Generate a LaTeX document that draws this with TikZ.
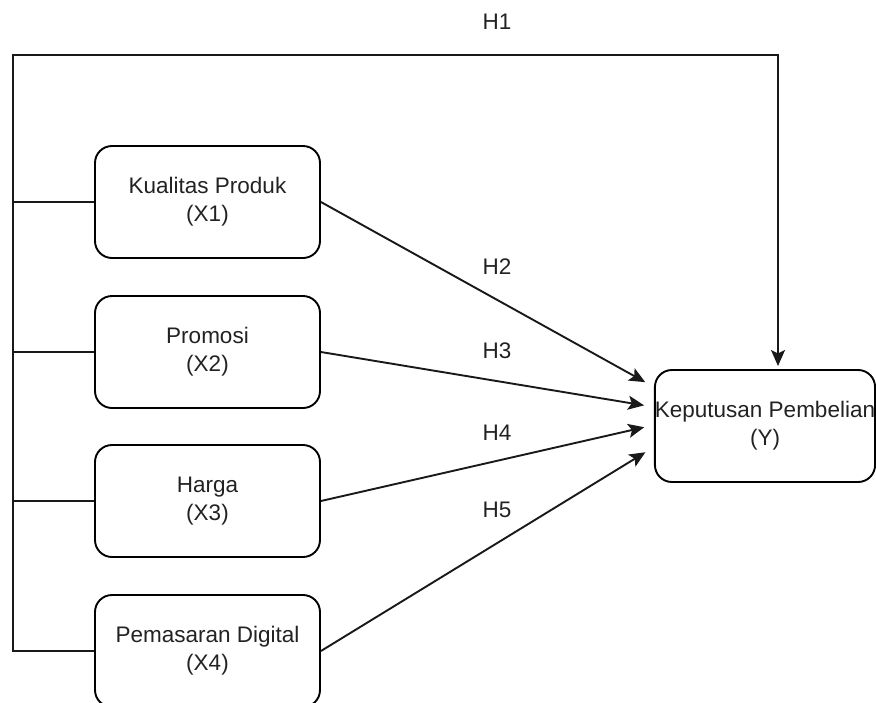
\documentclass[tikz,border=0pt]{standalone}
\usepackage{fontspec}
\setmainfont{Liberation Sans}
\usetikzlibrary{arrows.meta,calc}
\definecolor{txt}{HTML}{222222}
\tikzset{
  box/.style={draw=black, line width=1.9pt, rounded corners=17pt, minimum width=225pt, minimum height=112pt, align=center, inner sep=0pt, font=\fontsize{22.5}{28}\selectfont, text=txt},
  lbl/.style={font=\fontsize{22.5}{27}\selectfont, text=txt, inner sep=0pt},
  conn/.style={draw=black!90, line width=1.9pt},
  arr/.style={conn, -{Stealth[length=16pt, width=14pt, inset=3.5pt]}}
}
\begin{document}
\begin{tikzpicture}[x=1pt, y=-1pt]
\useasboundingbox (0,0) rectangle (876,702);
\node[box] (x1) at (207.5,202) {Kualitas Produk\\(X1)};
\node[box] (x2) at (207.5,352) {Promosi\\(X2)};
\node[box] (x3) at (207.5,501) {Harga\\(X3)};
\node[box] (x4) at (207.5,651) {Pemasaran Digital\\(X4)};
\node[box, minimum width=220pt] (y) at (765,426) {Keputusan Pembelian\\(Y)};
\coordinate (tl) at (13,55);
\coordinate (yt) at (778,370);
\draw[arr, shorten >=4pt] (x4.west) -| (tl) -| (yt);
\draw[conn] (x1.west) -- (x1.west -| tl);
\draw[conn] (x2.west) -- (x2.west -| tl);
\draw[conn] (x3.west) -- (x3.west -| tl);
\draw[arr, shorten >=10pt] (x1.east) -- ($(y.west)+(0,-39)$);
\draw[arr, shorten >=10pt] (x2.east) -- ($(y.west)+(0,-19)$);
\draw[arr, shorten >=10pt] (x3.east) -- ($(y.west)+(0,-1)$);
\draw[arr, shorten >=10pt] (x4.east) -- ($(y.west)+(0,21)$);
\node[lbl] (h1) at (497,22) {H1};
\node[lbl] (h2) at (497,267) {H2};
\node[lbl] (h3) at (497,351) {H3};
\node[lbl] (h4) at (497,433) {H4};
\node[lbl] (h5) at (497,510) {H5};
\end{tikzpicture}
\end{document}
